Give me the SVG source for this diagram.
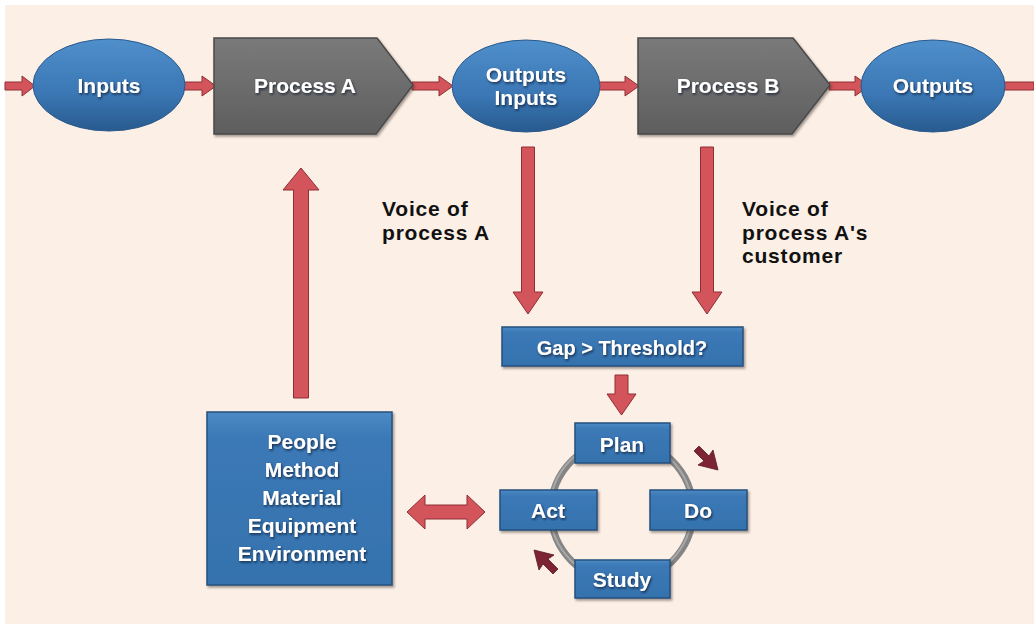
<svg xmlns="http://www.w3.org/2000/svg" width="1034" height="624" viewBox="0 0 1034 624">
<defs>
<linearGradient id="blueEll" x1="0" y1="0" x2="0" y2="1">
<stop offset="0" stop-color="#4F8FCB"/>
<stop offset="0.6" stop-color="#3A77B4"/>
<stop offset="1" stop-color="#285A8E"/>
</linearGradient>
<linearGradient id="blueBox" x1="0" y1="0" x2="0" y2="1">
<stop offset="0" stop-color="#4C8AC4"/>
<stop offset="0.15" stop-color="#3B79B6"/>
<stop offset="1" stop-color="#3572AE"/>
</linearGradient>
<linearGradient id="gray" x1="0" y1="0" x2="0" y2="1">
<stop offset="0" stop-color="#7A7A7A"/>
<stop offset="0.5" stop-color="#6C6C6C"/>
<stop offset="1" stop-color="#5E5E5E"/>
</linearGradient>
<filter id="ts" x="-20%" y="-30%" width="140%" height="160%">
<feDropShadow dx="1" dy="1.5" stdDeviation="1" flood-color="#0A1F33" flood-opacity="0.8"/>
</filter>
<filter id="sh" x="-10%" y="-10%" width="125%" height="130%">
<feDropShadow dx="1.5" dy="2" stdDeviation="1.2" flood-color="#3A2A20" flood-opacity="0.45"/>
</filter>
</defs>
<style>
.lbl{font-family:"Liberation Sans",Arial,sans-serif;font-weight:bold;fill:#FFFFFF;text-anchor:middle;filter:url(#ts)}
.blk{font-family:"Liberation Sans",Arial,sans-serif;font-weight:bold;fill:#111111;font-size:21px;letter-spacing:0.8px}
.ell{fill:url(#blueEll);stroke:#2A5A8C;stroke-width:1}
.box{fill:url(#blueBox);stroke:#24507E;stroke-width:1.5;filter:url(#sh)}
.proc{fill:url(#gray);stroke:#4A4A4A;stroke-width:1.5;filter:url(#sh)}
.arr{fill:#D4545B;stroke:#8E2F35;stroke-width:1}
.small{fill:#7C2433;stroke:#5A1822;stroke-width:0.8}
</style>
<rect x="0" y="0" width="1034" height="624" fill="#FFFFFF"/>
<rect x="5" y="5" width="1029" height="619" fill="#FBEFE6"/>

<g id="connectors">
<path class="arr" d="M5,82 H22 V76 L35,86 L22,96 V90 H5 Z"/>
<path class="arr" d="M184,82 H202 V76 L216,86 L202,96 V90 H184 Z"/>
<path class="arr" d="M412,82 H439 V76 L453,86 L439,96 V90 H412 Z"/>
<path class="arr" d="M599,82 H625 V76 L639,86 L625,96 V90 H599 Z"/>
<path class="arr" d="M829,82 H855 V76 L869,86 L855,96 V90 H829 Z"/>
<path class="arr" d="M1002,82 H1034 V90 H1002 Z"/>
<path class="arr" d="M521.5,147 H534.5 V292 H543 L528,314 L513,292 H521.5 Z"/>
<path class="arr" d="M700.5,147 H713.5 V292 H722 L707,314 L692,292 H700.5 Z"/>
<path class="arr" d="M615,375 H628 V394 H636 L621.5,415 L607,394 H615 Z"/>
<path class="arr" d="M293.5,398 V190 H283 L301,168 L319,190 H308.5 V398 Z"/>
<path class="arr" d="M407,512 L425,495 V505 H467 V495 L485,512 L467,529 V519 H425 V529 Z"/>
<circle cx="622" cy="511" r="71" fill="none" stroke="#858585" stroke-width="7"/>
<circle cx="621" cy="510" r="71" fill="none" stroke="#A8A8A8" stroke-width="2"/>
<path class="small" d="M699,446 L709,456 L713,450 L718,470 L698,465 L704,461 L694,451 Z"/>
<path class="small" d="M553,574 L543,564 L539,570 L534,550 L554,555 L548,559 L558,569 Z"/>
</g>

<g id="inputs">
<ellipse class="ell" cx="109" cy="85" rx="76" ry="46"/>
<text class="lbl" x="109" y="93" font-size="21">Inputs</text>
</g>

<g id="process-a">
<path class="proc" d="M214,38 H377 L413,85 L376,134 H214 Z"/>
<text class="lbl" x="305" y="93" font-size="21">Process A</text>
</g>

<g id="outputs-inputs">
<ellipse class="ell" cx="526" cy="86" rx="74" ry="46"/>
<text class="lbl" x="526" y="82" font-size="21">Outputs</text>
<text class="lbl" x="526" y="105" font-size="21">Inputs</text>
</g>

<g id="process-b">
<path class="proc" d="M638,38 H793 L830,85 L792,134 H638 Z"/>
<text class="lbl" x="728" y="93" font-size="21">Process B</text>
</g>

<g id="outputs">
<ellipse class="ell" cx="933" cy="86" rx="72" ry="46"/>
<text class="lbl" x="933" y="93" font-size="21">Outputs</text>
</g>

<g id="voice-a">
<text class="blk" x="382" y="216">Voice of</text>
<text class="blk" x="382" y="239.5">process A</text>
</g>

<g id="voice-customer">
<text class="blk" x="742" y="216">Voice of</text>
<text class="blk" x="742" y="239.5">process A's</text>
<text class="blk" x="742" y="263">customer</text>
</g>

<g id="gap">
<rect class="box" x="502" y="327" width="241" height="39"/>
<text class="lbl" x="622" y="355" font-size="20">Gap &gt; Threshold?</text>
</g>

<g id="factors">
<rect class="box" x="207" y="412" width="185" height="173"/>
<text class="lbl" x="302" y="449" font-size="21">People</text>
<text class="lbl" x="302" y="477" font-size="21">Method</text>
<text class="lbl" x="302" y="505" font-size="21">Material</text>
<text class="lbl" x="302" y="533" font-size="21">Equipment</text>
<text class="lbl" x="302" y="561" font-size="21">Environment</text>
</g>

<g id="plan">
<rect class="box" x="575" y="423" width="95" height="40"/>
<text class="lbl" x="622" y="452" font-size="21">Plan</text>
</g>

<g id="act">
<rect class="box" x="500" y="490" width="97" height="40"/>
<text class="lbl" x="548" y="518" font-size="21">Act</text>
</g>

<g id="do">
<rect class="box" x="650" y="490" width="97" height="40"/>
<text class="lbl" x="698" y="518" font-size="21">Do</text>
</g>

<g id="study">
<rect class="box" x="575" y="560" width="95" height="38"/>
<text class="lbl" x="622" y="587" font-size="21">Study</text>
</g>
</svg>
